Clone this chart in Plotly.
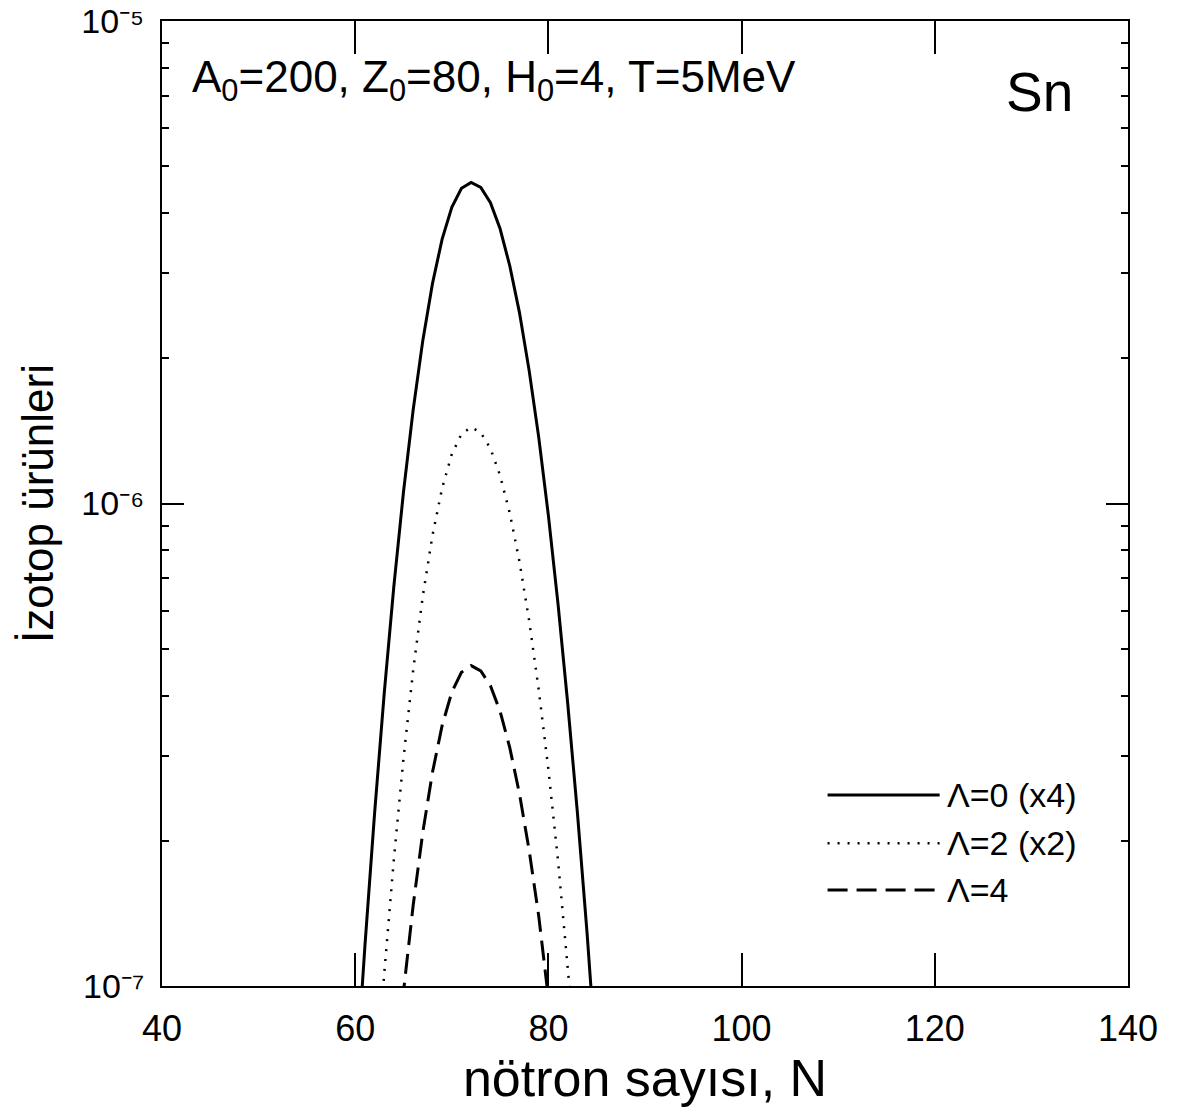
import plotly.graph_objects as go

# neutron number N (integer)
N_L0 = list(range(60, 87))
Y_L0 = [6.03e-8, 1.205e-7, 2.27e-7, 4.03e-7, 6.73e-7, 1.057e-6, 1.563e-6, 2.178e-6,
        2.858e-6, 3.532e-6, 4.11e-6, 4.50e-6, 4.63e-6, 4.52e-6, 4.20e-6, 3.71e-6,
        3.11e-6, 2.49e-6, 1.89e-6, 1.371e-6, 9.44e-7, 6.18e-7, 3.85e-7, 2.29e-7,
        1.29e-7, 6.93e-8, 3.54e-8]

N_L2 = list(range(60, 86))
Y_L2 = [1.387e-8, 2.91e-8, 5.73e-8, 1.057e-7, 1.828e-7, 2.965e-7, 4.51e-7, 6.43e-7,
        8.59e-7, 1.076e-6, 1.265e-6, 1.393e-6, 1.439e-6, 1.403e-6, 1.30e-6, 1.143e-6,
        9.55e-7, 7.59e-7, 5.73e-7, 4.11e-7, 2.81e-7, 1.816e-7, 1.117e-7, 6.53e-8,
        3.63e-8, 1.914e-8]

N_L4 = list(range(63, 83))
Y_L4 = [3.52e-8, 6.04e-8, 9.73e-8, 1.469e-7, 2.084e-7, 2.773e-7, 3.467e-7, 4.064e-7,
        4.467e-7, 4.613e-7, 4.50e-7, 4.19e-7, 3.71e-7, 3.12e-7, 2.506e-7, 1.914e-7,
        1.396e-7, 9.68e-8, 6.38e-8, 4.02e-8]

SERIES_NAMES = ["Λ=0 (x4)", "Λ=2 (x2)", "Λ=4"]

X_TICKS = [40, 60, 80, 100, 120, 140]
Y_TICKS = [1e-7, 1e-6, 1e-5]
Y_TICKTEXT = ["10⁻⁷", "10⁻⁶", "10⁻⁵"]
Y_MINOR = [k * 10.0 ** e for e in (-7, -6) for k in range(2, 10)]

FONT = "Liberation Sans, Arial, sans-serif"
STYLES = [dict(color="black", width=3),
          dict(color="black", width=2.5, dash="2px,8px"),
          dict(color="black", width=3, dash="20px,9px")]

fig = go.Figure()
for xs, ys, name, st in zip([N_L0, N_L2, N_L4], [Y_L0, Y_L2, Y_L4], SERIES_NAMES, STYLES):
    fig.add_trace(go.Scatter(x=xs, y=ys, mode="lines", name=name, line=st,
                             showlegend=False))

# hand-drawn legend (long line samples like the original)
LEG_Y = [0.198, 0.148, 0.0995]
LEG_X0, LEG_X1, LEG_TX = 0.689, 0.805, 0.8106
shapes = []
annotations = []
for name, st, ly in zip(SERIES_NAMES, STYLES, LEG_Y):
    shapes.append(dict(type="line", xref="paper", yref="paper", x0=LEG_X0, x1=LEG_X1,
                       y0=ly, y1=ly, line=st))
    annotations.append(dict(text=name, x=LEG_TX, y=ly, xref="paper", yref="paper",
                            xanchor="left", yanchor="middle", showarrow=False,
                            font=dict(size=34, family=FONT)))

annotations += [
    dict(text="A<sub>0</sub>=200, Z<sub>0</sub>=80, H<sub>0</sub>=4, T=5MeV",
         x=0.029, y=0.939, xref="paper", yref="paper", xanchor="left", yanchor="middle",
         showarrow=False, font=dict(size=44, family=FONT)),
    dict(text="Sn", x=0.945, y=0.926, xref="paper", yref="paper",
         xanchor="right", yanchor="middle", showarrow=False,
         font=dict(size=55, family=FONT)),
]

fig.update_layout(
    width=1173, height=1100,
    margin=dict(l=154, r=53, t=13, b=122),
    paper_bgcolor="white", plot_bgcolor="white",
    font=dict(family=FONT, color="black"),
    showlegend=False,
    shapes=shapes,
    annotations=annotations,
)

fig.update_xaxes(
    range=[40, 140], tickvals=X_TICKS, ticks="inside", ticklen=33, tickwidth=2,
    tickcolor="black", showline=True, linecolor="black", linewidth=2, mirror="ticks",
    showgrid=False, zeroline=False, tickfont=dict(size=36, family=FONT),
    ticklabelstandoff=10, ticklabeloverflow="allow", automargin=False,
    title=dict(text="nötron sayısı, N", font=dict(size=52, family=FONT), standoff=6),
)
fig.update_yaxes(
    type="log", range=[-7, -5], tickvals=Y_TICKS, ticktext=Y_TICKTEXT,
    ticks="inside", ticklen=22, tickwidth=2, tickcolor="black",
    minor=dict(tickvals=Y_MINOR, ticks="inside", ticklen=7, tickwidth=2, tickcolor="black",
               showgrid=False),
    showline=True, linecolor="black", linewidth=2, mirror="ticks",
    showgrid=False, zeroline=False, tickfont=dict(size=34, family=FONT),
    ticklabelstandoff=9, ticklabeloverflow="allow", automargin=False,
    title=dict(text="İzotop ürünleri", font=dict(size=44, family=FONT), standoff=14),
)

fig.write_html("out.html")
